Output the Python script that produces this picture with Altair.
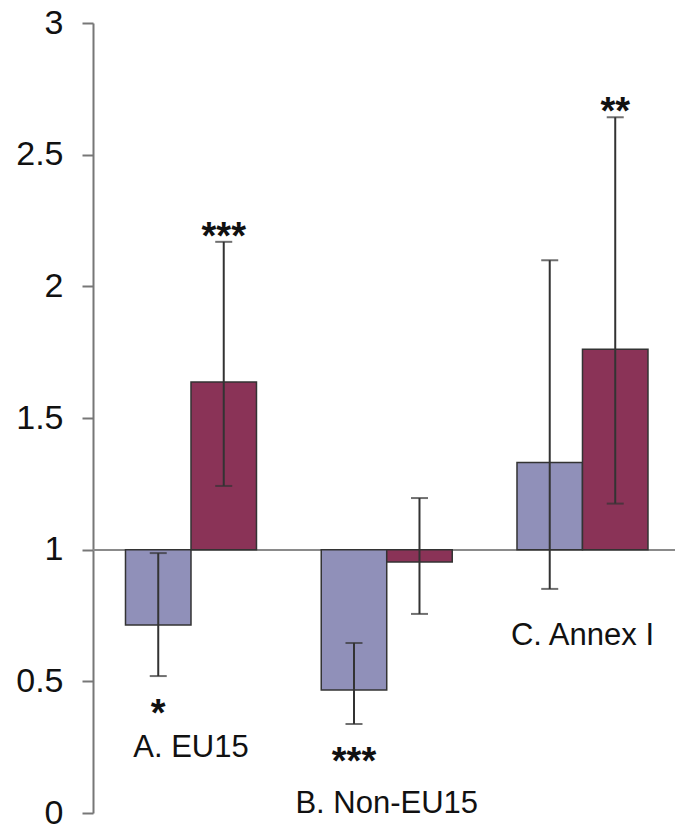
import altair as alt
import pandas as pd

groups = ["A. EU15", "B. Non-EU15", "C. Annex I"]
series = ["Series 1", "Series 2"]

values_1 = [0.714, 0.467, 1.331]
values_2 = [1.637, 0.953, 1.761]
lower_1 = [0.520, 0.338, 0.851]
upper_1 = [0.987, 0.646, 2.099]
lower_2 = [1.242, 0.756, 1.175]
upper_2 = [2.169, 1.196, 2.642]
stars_1 = ["*", "***", ""]
stars_2 = ["***", "", "**"]

label_y = [0.213, 0.0, 0.638]
y_ticks = [0, 0.5, 1, 1.5, 2, 2.5, 3]

rows = []
for i, g in enumerate(groups):
    for s, v, lo, up, st in [
        (series[0], values_1[i], lower_1[i], upper_1[i], stars_1[i]),
        (series[1], values_2[i], lower_2[i], upper_2[i], stars_2[i]),
    ]:
        rows.append({
            "group": g, "series": s, "value": v, "lower": lo, "upper": up,
            "stars": st, "below": v < 1,
            "star_y": lo if v < 1 else up,
        })
df = pd.DataFrame(rows)
labels = pd.DataFrame({"group": groups, "ly": label_y})

FONT = "Liberation Sans"

x_enc = alt.X("group:N", sort=groups, axis=None,
              scale=alt.Scale(paddingInner=0.3308, paddingOuter=0.152, align=0.546))
xo_enc = alt.XOffset("series:N", sort=series,
                     scale=alt.Scale(paddingInner=0, paddingOuter=0))
y_scale = alt.Scale(domain=[0, 3], nice=False, zero=False)

base = alt.Chart(df)

baseline = alt.Chart(df).mark_rule(color="#8a8a8a", strokeWidth=1.5).encode(
    y=alt.datum(1, scale=y_scale)
)

bars = base.mark_bar(stroke="#333333", strokeWidth=1.5).encode(
    x=x_enc,
    xOffset=xo_enc,
    y=alt.Y("value:Q", scale=y_scale, title=None,
            axis=alt.Axis(values=y_ticks, format="~g", grid=False,
                          domainColor="#777777", domainWidth=2,
                          tickColor="#777777", tickWidth=2, tickSize=11,
                          labelPadding=19, labelFontSize=34, labelFont=FONT,
                          labelColor="#111111")),
    y2=alt.datum(1),
    color=alt.Color("series:N", sort=series, legend=None,
                    scale=alt.Scale(domain=series, range=["#9090b9", "#8a3357"])),
)

err = base.mark_rule(color="#333333", strokeWidth=2).encode(
    x=x_enc, xOffset=xo_enc,
    y=alt.Y("lower:Q", scale=y_scale), y2="upper:Q",
)
cap_lo = base.mark_tick(color="#333333", thickness=2, size=17).encode(
    x=x_enc, xOffset=xo_enc, y=alt.Y("lower:Q", scale=y_scale),
)
cap_hi = base.mark_tick(color="#333333", thickness=2, size=17).encode(
    x=x_enc, xOffset=xo_enc, y=alt.Y("upper:Q", scale=y_scale),
)

stars_below = base.transform_filter("datum.below && datum.stars != ''").mark_text(
    font=FONT, fontSize=38, fontWeight="bold", color="#111111",
    baseline="alphabetic", align="center", dy=50,
).encode(x=x_enc, xOffset=xo_enc, y=alt.Y("star_y:Q", scale=y_scale), text="stars:N")

stars_above = base.transform_filter("!datum.below && datum.stars != ''").mark_text(
    font=FONT, fontSize=38, fontWeight="bold", color="#111111",
    baseline="alphabetic", align="center", dy=7,
).encode(x=x_enc, xOffset=xo_enc, y=alt.Y("star_y:Q", scale=y_scale), text="stars:N")

cat_labels = alt.Chart(labels).mark_text(
    font=FONT, fontSize=31, color="#111111", baseline="alphabetic", align="center",
).encode(x=x_enc, y=alt.Y("ly:Q", scale=y_scale), text="group:N")

chart = alt.layer(
    baseline, bars, err, cap_lo, cap_hi, stars_below, stars_above, cat_labels
).properties(
    width=582, height=790,
    autosize=alt.AutoSizeParams(type="none"),
    padding={"left": 85, "top": 15, "right": 0, "bottom": 15},
    background="white",
).configure_view(stroke=None)

chart.save("out.html", embed_options={"renderer": "svg", "actions": False})
